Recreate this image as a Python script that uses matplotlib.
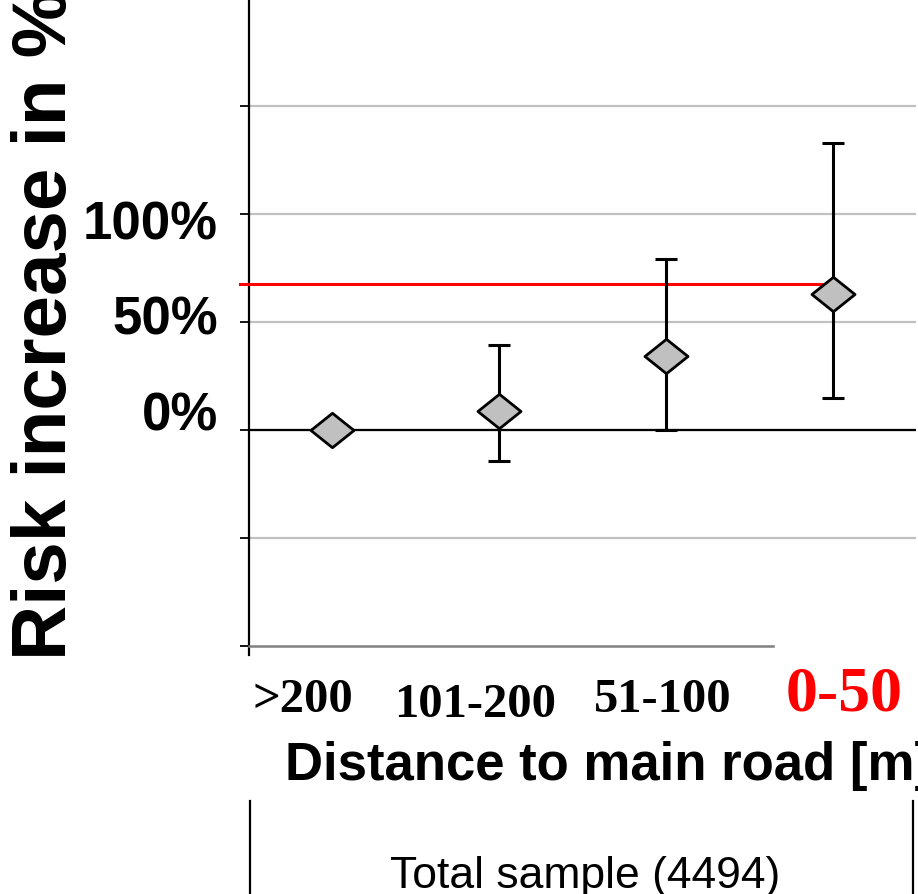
import matplotlib
matplotlib.use("Agg")
import matplotlib.pyplot as plt
from matplotlib.path import Path
import matplotlib.transforms as mtransforms
import numpy as np

# data
categories = [">200", "101-200", "51-100", "0-50"]
risk = [0.0, 8.6, 34.4, 63.1]
ci_low = [0.0, -14.2, 0.0, 15.0]
ci_high = [0.0, 39.5, 79.0, 133.0]
threshold = 67.4
yticks = [-100, -50, 0, 50, 100, 150]
ytick_labels = ["", "", "0%", "50%", "100%", ""]

fig = plt.figure(figsize=(9.18, 8.95), dpi=100)
ax = fig.add_axes([249 / 918, 248 / 895, 667 / 918, 648 / 895])

x = np.arange(1, len(categories) + 1)
ax.set_xlim(0.5, 4.5)
ax.set_ylim(-100, 200)

# grid + zero line
ax.set_yticks(yticks)
ax.yaxis.grid(True, color="#c0c0c0", linewidth=1.6)
ax.set_axisbelow(True)
ax.yaxis.get_gridlines()[0].set_visible(False)
ax.axhline(0, color="black", linewidth=1.6, zorder=2)

# spines
for s in ["top", "right"]:
    ax.spines[s].set_visible(False)
ax.spines["left"].set_linewidth(1.6)
ax.spines["left"].set_bounds(-104, 200)
ax.spines["bottom"].set_color("#808080")
ax.spines["bottom"].set_linewidth(1.8)
ax.spines["bottom"].set_bounds(0.5, 3.64)

ax.tick_params(axis="y", direction="out", length=6.5, width=1.3, pad=16)
ax.set_xticks([])

ax.set_yticklabels(ytick_labels, fontsize=38, fontweight="bold",
                   family="Liberation Sans")
shift_px = [0, 0, 20, 8, -5, 0]
for lab, dy in zip(ax.get_yticklabels(), shift_px):
    off = mtransforms.ScaledTranslation(0, dy / 100, fig.dpi_scale_trans)
    lab.set_transform(lab.get_transform() + off)

# reference threshold line (red)
ax.plot([0.446, 3.967], [threshold, threshold], color="red", linewidth=2.2,
        zorder=3, clip_on=False)

# confidence intervals
has_ci = [i for i in range(len(x)) if ci_high[i] > ci_low[i]]
xe = x[has_ci]
ye = np.array(risk)[has_ci]
lo = ye - np.array(ci_low)[has_ci]
hi = np.array(ci_high)[has_ci] - ye
ax.errorbar(xe, ye, yerr=[lo, hi], fmt="none", ecolor="black",
            elinewidth=2.2, capsize=8, capthick=2.2, zorder=4)

# diamonds
diamond = Path([(-1, 0), (0, 0.8), (1, 0), (0, -0.8), (-1, 0)],
               [Path.MOVETO, Path.LINETO, Path.LINETO, Path.LINETO, Path.CLOSEPOLY])
ax.plot(x, risk, linestyle="none", marker=diamond, markersize=31,
        markerfacecolor="#c0c0c0", markeredgecolor="black",
        markeredgewidth=2.0, zorder=5)

# category labels under the axis
label_dx = [-21, -17, -2, 8]
label_dy = [-46.8, -50.4, -46.8, -45.4]
for i, c in enumerate(categories):
    red = c == "0-50"
    ax.annotate(c, xy=(x[i], 0), xycoords=("data", "axes fraction"),
                xytext=(label_dx[i], label_dy[i]), textcoords="offset points",
                ha="center", va="baseline", family="Liberation Serif",
                fontweight="bold", fontsize=46 if red else 35,
                color="red" if red else "black", annotation_clip=False)

fig.text(285 / 918, 1 - 780 / 895, "Distance to main road [m]",
         fontsize=38, fontweight="bold", family="Liberation Sans",
         ha="left", va="baseline")

fig.text(47 / 918, 1 - 325 / 895, "Risk increase in %", rotation=90,
         fontsize=55, fontweight="bold", family="Liberation Sans",
         ha="center", va="center")

# sample box below
for bx in [250, 913]:
    fig.add_artist(plt.Line2D([bx / 918, bx / 918], [0, 1 - 802 / 895],
                              color="black", linewidth=1.6))
fig.text(585 / 918, 1 - 888 / 895, "Total sample (4494)", fontsize=32,
         family="Liberation Sans", ha="center", va="baseline")

fig.savefig("out.png", dpi=100)
